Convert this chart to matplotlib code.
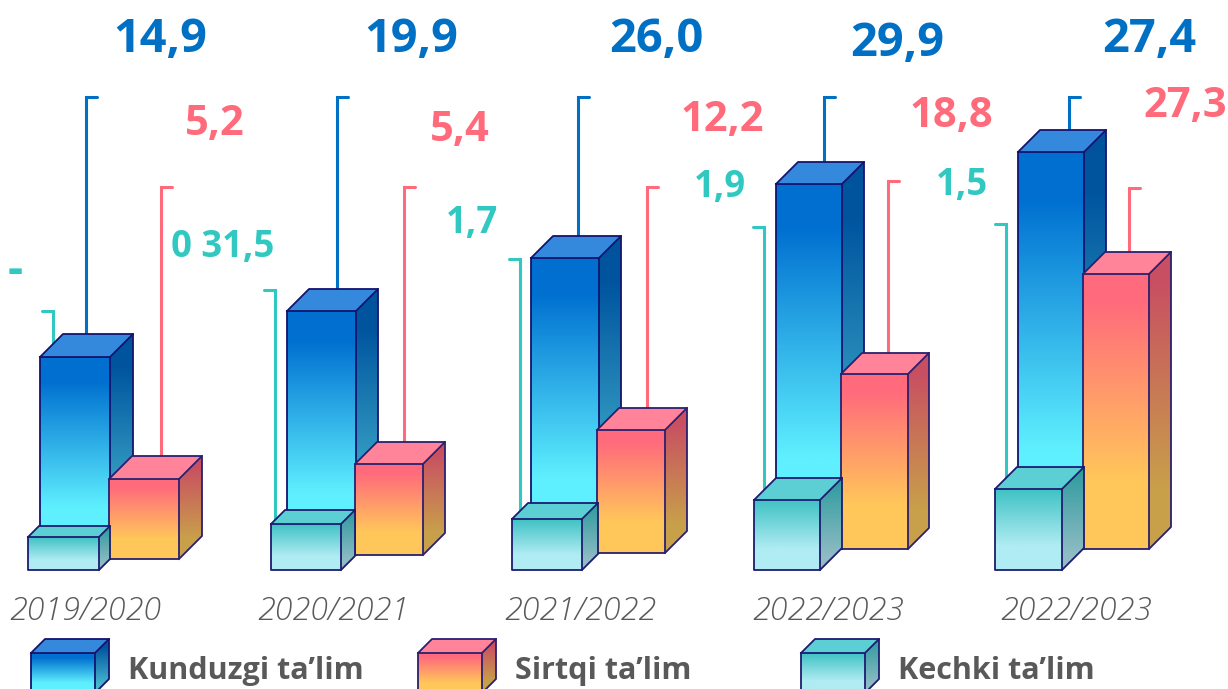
import matplotlib
matplotlib.use("Agg")
import matplotlib.pyplot as plt
import numpy as np
from matplotlib.colors import LinearSegmentedColormap
from matplotlib.patches import Polygon

plt.rcParams['font.family'] = ['Open Sans', 'DejaVu Sans']

# data
years = ['2019/2020', '2020/2021', '2021/2022', '2022/2023', '2022/2023']
kunduzgi = [14.9, 19.9, 26.0, 29.9, 27.4]
sirtqi = [5.2, 5.4, 12.2, 18.8, 27.3]
kechki = ['-', '0 31,5', '1,7', '1,9', '1,5']
legend_names = ['Kunduzgi ta\u2019lim', 'Sirtqi ta\u2019lim', 'Kechki ta\u2019lim']

# bar heights as drawn in the picture (they do not follow the labels exactly)
kunduzgi_bar = [202, 244, 295, 365, 397]
sirtqi_bar = [80, 91, 123, 175, 275]
kechki_bar = [33, 46, 51, 70, 81]

# layout, in pixels of the picture
base_k = [559, 555, 553, 549, 549]
base_kechki = 570
left_k = [40, 287, 531, 776, 1018]
wid_k = [70, 69, 68, 66, 66]
depth_k = [23, 22, 22, 22, 22]
left_s = [109, 355, 597, 841, 1083]
wid_s = [70, 68, 68, 67, 66]
depth_s = [23, 22, 22, 21, 22]
left_c = [28, 271, 512, 754, 995]
wid_c = [71, 70, 70, 66, 67]
depth_c = [11, 14, 16, 22, 22]

lead_k = [86, 337, 578, 824, 1069]
lead_k_top = [97, 97, 97, 97, 97]
lead_s = [161, 404, 647, 888, 1129]
lead_s_top = [187, 187, 187, 181, 188]
lead_c = [53, 275, 520, 764, 1006]
lead_c_top = [311, 290, 259, 227, 224]

text_k = [(160, 40), (411, 40), (656, 40), (897, 44), (1149, 40)]
text_s = [(215, 125), (460, 131), (722, 121), (951, 117), (1185, 106)]
text_c = [(15, 272), (223, 247), (472, 223), (720, 187), (962, 185)]
year_x = [85, 333, 580, 828, 1076]

BLUE, RED, TEAL = '#0070c4', '#ff6b7b', '#30c8c0'
GREY = '#595959'
EDGE = '#14146e'

styles = {
    'k': dict(front=[(0, '#006fcf'), (0.12, '#0070d0'), (0.75, '#5ff0ff'), (1, '#5ff0ff')],
              side=[(0, '#00529c'), (0.15, '#00559f'), (0.85, '#48b8d0'), (1, '#48b8d0')],
              top='#3589dc', edge=EDGE),
    's': dict(front=[(0, '#ff6b7c'), (0.1, '#ff6b7c'), (0.75, '#ffc75a'), (1, '#ffc75a')],
              side=[(0, '#c84f62'), (0.1, '#c84f62'), (0.8, '#c8a04a'), (1, '#c8a04a')],
              top='#ff8499', edge='#2a2070'),
    'c': dict(front=[(0, '#3fc2c4'), (0.7, '#b0ecf3'), (1, '#b0ecf3')],
              side=[(0, '#2b9a9e'), (0.85, '#90bcc4'), (1, '#90bcc4')],
              top='#5ccfd4', edge='#1c1c70'),
}

fig = plt.figure(figsize=(12.28, 6.89), dpi=100)
ax = fig.add_axes([0, 0, 1, 1])
ax.set_xlim(0, 1228)
ax.set_ylim(689, 0)
ax.axis('off')

grad = np.linspace(0, 1, 256).reshape(-1, 1)
order = [10]


def face(points, stops):
    # polygon filled with a vertical gradient
    xs = [p[0] for p in points]
    ys = [p[1] for p in points]
    order[0] += 1
    cmap = LinearSegmentedColormap.from_list('g', stops)
    im = ax.imshow(grad, extent=(min(xs), max(xs), max(ys), min(ys)), aspect='auto',
                   cmap=cmap, vmin=0, vmax=1, zorder=order[0], interpolation='bilinear')
    patch = Polygon(points, closed=True, fill=False, transform=ax.transData)
    ax.add_patch(patch)
    patch.set_visible(False)
    im.set_clip_path(patch)


def box(left, width, bottom, height, depth, st):
    right = left + width
    top = bottom - height
    face([(left, top), (right, top), (right, bottom), (left, bottom)], st['front'])
    side = [(right, top), (right + depth, top - depth),
            (right + depth, bottom - depth), (right, bottom)]
    face(side, st['side'])
    order[0] += 1
    z = order[0]
    ax.add_patch(Polygon([(left, top), (left + depth, top - depth), (right + depth, top - depth),
                          (right, top)], closed=True, fc=st['top'], ec='none', zorder=z))
    edge = dict(color=st['edge'], lw=1.3, zorder=z, solid_joinstyle='round')
    ax.plot([left, right, right, left, left], [top, top, bottom, bottom, top], **edge)
    ax.plot([left, left + depth, right + depth, right], [top, top - depth, top - depth, top], **edge)
    ax.plot([right + depth, right + depth, right], [top - depth, bottom - depth, bottom], **edge)


def leader(x, top, bottom, tick, color):
    ax.plot([x + tick, x, x], [top, top, bottom], color=color, lw=2.2, zorder=2,
            solid_capstyle='round', solid_joinstyle='miter')


for i in range(len(years)):
    leader(lead_k[i], lead_k_top[i], base_k[i] - kunduzgi_bar[i], 11, BLUE)
    leader(lead_s[i], lead_s_top[i], base_k[i] - sirtqi_bar[i], 11, RED)
    leader(lead_c[i], lead_c_top[i], base_kechki - kechki_bar[i], -11, TEAL)

    box(left_k[i], wid_k[i], base_k[i], kunduzgi_bar[i], depth_k[i], styles['k'])
    box(left_s[i], wid_s[i], base_k[i], sirtqi_bar[i], depth_s[i], styles['s'])
    box(left_c[i], wid_c[i], base_kechki, kechki_bar[i], depth_c[i], styles['c'])

    ax.text(*text_k[i], f'{kunduzgi[i]:.1f}'.replace('.', ','), color=BLUE, fontsize=33.8,
            fontweight='bold', ha='center', va='center', zorder=100)
    ax.text(*text_s[i], f'{sirtqi[i]:.1f}'.replace('.', ','), color=RED, fontsize=30,
            fontweight='bold', ha='center', va='center', zorder=100)
    ax.text(*text_c[i], kechki[i], color=TEAL, fontsize=34 if kechki[i] == '-' else 26.3,
            fontweight='bold', ha='center', va='center', zorder=100)
    ax.text(year_x[i], 611, years[i], color=GREY, fontsize=23.2, style='italic',
            fontweight='light', ha='center', va='center', zorder=100)

# legend, the boxes run off the bottom of the picture
legend_box = [31, 418, 801]
legend_text = [128, 515, 898]
for x, tx, name, key in zip(legend_box, legend_text, legend_names, 'ksc'):
    box(x, 64, 693, 40, 14, styles[key])
    ax.text(tx, 671, name, color=GREY, fontsize=22, fontweight='bold',
            ha='left', va='center', zorder=100)

ax.set_xlim(0, 1228)
ax.set_ylim(689, 0)
fig.savefig('out.png', dpi=100)
